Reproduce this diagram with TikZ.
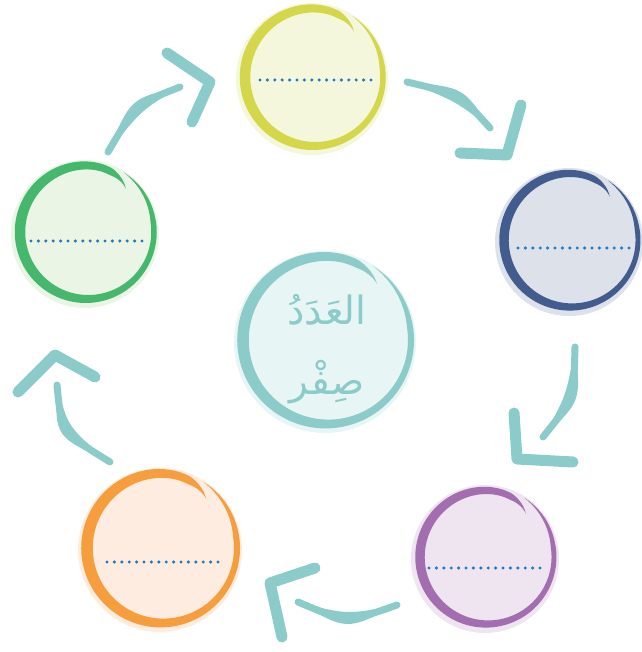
\documentclass[tikz,border=0pt]{standalone}
\usepackage{fontspec}
\usetikzlibrary{calc}
\TeXXeTstate=1
\newfontfamily\arabicfont[Script=Arabic]{DejaVu Sans}
\definecolor{arrowcol}{HTML}{8BCBC9}
\definecolor{tealline}{HTML}{8BCBC9}
\definecolor{tealfill}{HTML}{E7F5F4}
\definecolor{yelline}{HTML}{D4D74A}
\definecolor{yelfill}{HTML}{F4F7DC}
\definecolor{blueline}{HTML}{435C8E}
\definecolor{bluefill}{HTML}{DCE1EA}
\definecolor{purpline}{HTML}{A36EB0}
\definecolor{purpfill}{HTML}{EEE5F1}
\definecolor{oraline}{HTML}{F69D3E}
\definecolor{orafill}{HTML}{FDECDF}
\definecolor{grnline}{HTML}{45B86E}
\definecolor{grnfill}{HTML}{EBF5E6}
\definecolor{dotcol}{HTML}{1F78C1}
\tikzset{
  headstroke/.style={draw=arrowcol, line width=11pt, line cap=round, line join=round},
  shaftcore/.style={draw=arrowcol, line width=7pt, line cap=round},
  shaftbody/.style={fill=arrowcol, draw=none},
  dotline/.style={draw=dotcol, line width=3.4pt, line cap=round, dash pattern=on 0pt off 7.4pt},
  arabictext/.style={text=tealline, inner sep=0pt, font=\arabicfont\fontsize{39}{46}\selectfont}
}
% #1 name, #2 x, #3 y, #4 R, #5 W, #6 colour prefix
\newcommand\brushring[6]{%
  \coordinate (#1) at (#2,#3);
  \fill[#6fill] ($(#1)+(-2,-2)$) circle[radius=#4+7];
  \begin{scope}[declare function={
      bw(\t)=#5*(0.8+0.25*cos(\t-180))*min(1,(\t-48)/20)*min(1,(418-\t)/50);
      br(\t)=#4-9*exp(-(\t-48)/14)+3*max(0,(\t-370)/48);}]
    \fill[#6line] plot[domain=48:418,samples=160,variable=\t]
        ({#2+(br(\t)+0.5*bw(\t))*cos(\t)},{#3+(br(\t)+0.5*bw(\t))*sin(\t)})
      -- plot[domain=418:48,samples=160,variable=\t]
        ({#2+(br(\t)-0.5*bw(\t))*cos(\t)},{#3+(br(\t)-0.5*bw(\t))*sin(\t)}) -- cycle;
  \end{scope}
}
% #1 A, #2 B, #3 P, #4 P+, #5 P-
\newcommand\shaft[5]{%
  \fill[shaftbody] (#1) .. controls (#4) .. (#2) .. controls (#5) .. (#1) -- cycle;
  \draw[shaftcore] (#1) .. controls (#3) .. (#2);
}
\begin{document}
\begin{tikzpicture}[x=1pt,y=1pt]
\useasboundingbox (0,0) rectangle (641,652);

% circles
\brushring{yel}{314}{575}{69}{10}{yel}
\brushring{blu}{571}{412}{67}{9}{blue}
\brushring{pur}{487}{95}{67}{9}{purp}
\brushring{ora}{162}{104}{75}{11}{ora}
\brushring{grn}{87}{420}{67}{10}{grn}
\brushring{ctr}{327}{312}{84}{11}{teal}

% dotted blanks
\coordinate (yd1) at (260,572); \coordinate (yd2) at (371,572);
\coordinate (bd1) at (518,404); \coordinate (bd2) at (629,404);
\coordinate (pd1) at (429,84);  \coordinate (pd2) at (540,84);
\coordinate (od1) at (107,90);  \coordinate (od2) at (218,90);
\coordinate (gd1) at (31,411);  \coordinate (gd2) at (142,411);
\draw[dotline] (yd1) -- (yd2);
\draw[dotline] (bd1) -- (bd2);
\draw[dotline] (pd1) -- (pd2);
\draw[dotline] (od1) -- (od2);
\draw[dotline] (gd1) -- (gd2);

% centre text
\node[arabictext] (t1) at (327,342) {\beginR العَدَدُ\endR};
\node[arabictext] (t2) at (327,270) {\beginR صِفْر\endR};

% arrow 1 : green -> yellow
\coordinate (a1A) at (108,500); \coordinate (a1B) at (180,565);
\coordinate (a1P) at (136,547.8); \coordinate (a1Pp) at (130.6,553.7); \coordinate (a1Pm) at (141.4,541.9);
\coordinate (h1a) at (167,599); \coordinate (h1c) at (210,570); \coordinate (h1b) at (192,530);
\shaft{a1A}{a1B}{a1P}{a1Pp}{a1Pm}
\draw[headstroke] (h1a) -- (h1c) -- (h1b);

% arrow 2 : yellow -> blue
\coordinate (a2A) at (407,570); \coordinate (a2B) at (490,524);
\coordinate (a2P) at (459.8,557.7); \coordinate (a2Pp) at (463.7,564.7); \coordinate (a2Pm) at (455.9,550.7);
\coordinate (h2a) at (460,499); \coordinate (h2c) at (507,497); \coordinate (h2b) at (521,547);
\shaft{a2A}{a2B}{a2P}{a2Pp}{a2Pm}
\draw[headstroke] (h2a) -- (h2c) -- (h2b);

% arrow 3 : blue -> purple
\coordinate (a3A) at (575,305); \coordinate (a3B) at (543,215);
\coordinate (a3P) at (573.7,253.3); \coordinate (a3Pp) at (581.2,250.6); \coordinate (a3Pm) at (566.2,256.0);
\coordinate (h3a) at (514,239); \coordinate (h3c) at (517,193); \coordinate (h3b) at (573,190);
\shaft{a3A}{a3B}{a3P}{a3Pp}{a3Pm}
\draw[headstroke] (h3a) -- (h3c) -- (h3b);

% arrow 4 : purple -> orange
\coordinate (a4A) at (397,47); \coordinate (a4B) at (298,50);
\coordinate (a4P) at (346.8,29.2); \coordinate (a4Pp) at (346.6,21.2); \coordinate (a4Pm) at (347.0,37.2);
\coordinate (h4a) at (315,84); \coordinate (h4c) at (270,69); \coordinate (h4b) at (282,15);
\shaft{a4A}{a4B}{a4P}{a4Pp}{a4Pm}
\draw[headstroke] (h4a) -- (h4c) -- (h4b);

% arrow 5 : orange -> green
\coordinate (a5A) at (110,190); \coordinate (a5B) at (57,267);
\coordinate (a5P) at (61.5,219.8); \coordinate (a5Pp) at (54.9,215.3); \coordinate (a5Pm) at (68.1,224.3);
\coordinate (h5a) at (95,275); \coordinate (h5c) at (55,297); \coordinate (h5b) at (18,260);
\shaft{a5A}{a5B}{a5P}{a5Pp}{a5Pm}
\draw[headstroke] (h5a) -- (h5c) -- (h5b);
\end{tikzpicture}
\end{document}
